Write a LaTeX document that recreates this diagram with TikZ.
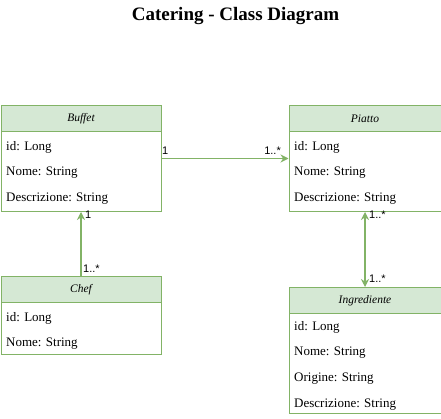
\documentclass[tikz,border=0pt]{standalone}
\usepackage{fontspec}
\setmainfont{Liberation Serif}
\newfontfamily\labelfont{Liberation Sans}
\usetikzlibrary{arrows.meta}
\definecolor{hdr}{HTML}{D5E8D4}
\definecolor{edgec}{HTML}{82B366}
\begin{document}
\begin{tikzpicture}[x=1pt,y=-1pt,
  classbody/.style={draw=edgec,line width=1pt,anchor=north west,inner sep=0pt},
  classhead/.style={draw=edgec,fill=hdr,line width=1pt,anchor=north west,inner sep=0pt,minimum height=26pt,font=\fontsize{11.5}{13}\selectfont\itshape},
  row/.style={anchor=west,inner sep=0pt,font=\fontsize{13}{15}\selectfont},
  conn/.style={draw=edgec,line width=1.1pt},
  mult/.style={inner sep=0pt,font=\labelfont\fontsize{11}{13}\selectfont},
  tip/.style={-{Stealth[length=8pt,width=8pt]}}
]
\useasboundingbox (0,0) rectangle (441,419);
\node[font=\fontsize{19}{23}\selectfont\bfseries] (title) at (235.5,16) {Catering - Class Diagram};

% Buffet
\node[classbody,minimum width=160pt,minimum height=106pt] (buffet) at (0.5,105) {};
\node[classhead,minimum width=160pt] (buffetH) at (0.5,105) {Buffet};
\node[row] (buffet1) at (6,147) {id: Long};
\node[row] (buffet2) at (6,173) {Nome: String};
\node[row] (buffet3) at (6,199) {Descrizione: String};

% Piatto
\node[classbody,minimum width=152pt,minimum height=106pt] (piatto) at (288.5,105) {};
\node[classhead,minimum width=152pt] (piattoH) at (288.5,105) {Piatto};
\node[row] (piatto1) at (294,147) {id: Long};
\node[row] (piatto2) at (294,173) {Nome: String};
\node[row] (piatto3) at (294,199) {Descrizione: String};

% Chef
\node[classbody,minimum width=160pt,minimum height=78pt] (chef) at (0.5,276) {};
\node[classhead,minimum width=160pt] (chefH) at (0.5,276) {Chef};
\node[row] (chef1) at (6,318) {id: Long};
\node[row] (chef2) at (6,344) {Nome: String};

% Ingrediente
\node[classbody,minimum width=152pt,minimum height=126pt] (ingr) at (288.5,287) {};
\node[classhead,minimum width=152pt] (ingrH) at (288.5,287) {Ingrediente};
\node[row] (ingr1) at (294,327) {id: Long};
\node[row] (ingr2) at (294,353) {Nome: String};
\node[row] (ingr3) at (294,379) {Origine: String};
\node[row] (ingr4) at (294,405) {Descrizione: String};

% connectors
\draw[conn,tip] (buffet.east) -- (piatto.west);
\draw[conn,tip] (chef.north) -- (buffet.south);
\draw[conn,{Stealth[length=8pt,width=8pt]}-{Stealth[length=8pt,width=8pt]}] (piatto.south) -- (ingr.north);

% multiplicities
\node[mult,anchor=south west] (m1) at (162,155) {1};
\node[mult,anchor=south east] (m2) at (281,155) {1..*};
\node[mult,anchor=north west] (m3) at (85,211) {1};
\node[mult,anchor=south west] (m4) at (83,273) {1..*};
\node[mult,anchor=north west] (m5) at (369,211) {1..*};
\node[mult,anchor=south west] (m6) at (369,283) {1..*};
\end{tikzpicture}
\end{document}
